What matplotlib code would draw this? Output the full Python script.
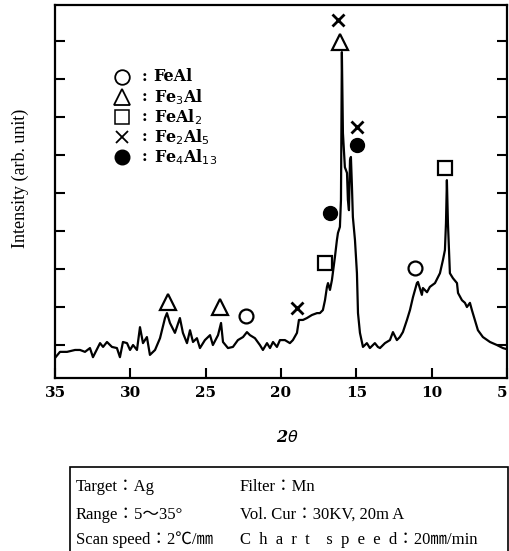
import numpy as np
import matplotlib
matplotlib.use("Agg")
import matplotlib.pyplot as plt
from matplotlib.patches import Rectangle

# XRD trace (2theta in degrees, intensity in arbitrary units)
two_theta = [35.00, 34.67, 34.20, 33.67, 33.34, 33.01, 32.68, 32.48, 32.01, 31.81,
             31.55, 31.22, 30.89, 30.69, 30.49, 30.22, 30.02, 29.82, 29.56, 29.36,
             29.16, 28.90, 28.70, 28.36, 28.03, 27.70, 27.57, 27.37, 27.04, 26.71,
             26.51, 26.24, 26.04, 25.84, 25.58, 25.38, 25.05, 24.71, 24.52, 24.18,
             23.98, 23.85, 23.52, 23.19, 22.86, 22.52, 22.26, 22.06, 21.73, 21.40,
             21.20, 20.93, 20.73, 20.53, 20.27, 20.07, 19.74, 19.41, 19.21, 18.94,
             18.81, 18.54, 18.28, 17.95, 17.61, 17.42, 17.22, 17.08, 16.95, 16.88,
             16.75, 16.62, 16.42, 16.29, 16.22, 16.09, 16.02, 15.96, 15.89, 15.76,
             15.62, 15.56, 15.49, 15.42, 15.36, 15.29, 15.23, 15.09, 14.96, 14.89,
             14.76, 14.56, 14.30, 14.10, 13.90, 13.77, 13.57, 13.43, 13.10, 12.77,
             12.57, 12.31, 12.11, 11.91, 11.64, 11.44, 11.24, 10.98, 10.91, 10.65,
             10.58, 10.31, 10.12, 9.78, 9.45, 9.25, 9.12, 9.05, 8.99, 8.92,
             8.85, 8.79, 8.59, 8.32, 8.25, 7.99, 7.79, 7.66, 7.46, 7.33,
             7.13, 6.93, 6.60, 6.13, 5.67, 5.27, 5.01]
intensity = [0.66, 0.82, 0.82, 0.87, 0.87, 0.82, 0.92, 0.68, 1.05, 0.95,
             1.08, 0.95, 0.92, 0.68, 1.08, 1.05, 0.87, 1.00, 0.87, 1.47,
             1.05, 1.21, 0.74, 0.87, 1.18, 1.71, 1.84, 1.58, 1.32, 1.71,
             1.32, 1.05, 1.39, 1.08, 1.18, 0.92, 1.13, 1.26, 1.00, 1.26,
             1.58, 1.08, 0.92, 0.95, 1.13, 1.21, 1.34, 1.26, 1.18, 1.00,
             0.87, 1.05, 0.92, 1.08, 0.95, 1.13, 1.13, 1.05, 1.13, 1.32,
             1.66, 1.66, 1.71, 1.79, 1.84, 1.84, 1.92, 2.18, 2.53, 2.63,
             2.45, 2.71, 3.32, 3.76, 3.95, 4.11, 4.82, 8.71, 6.58, 5.68,
             5.53, 4.82, 4.55, 5.87, 5.95, 5.16, 4.37, 3.76, 2.89, 1.84,
             1.32, 0.95, 1.05, 0.92, 1.00, 1.05, 0.95, 0.92, 1.05, 1.13,
             1.34, 1.13, 1.21, 1.34, 1.66, 1.92, 2.26, 2.63, 2.66, 2.32,
             2.50, 2.39, 2.53, 2.63, 2.89, 3.24, 3.50, 4.21, 5.34, 4.21,
             3.50, 2.89, 2.76, 2.63, 2.37, 2.18, 2.11, 2.00, 2.11, 1.92,
             1.66, 1.39, 1.21, 1.08, 1.00, 0.92, 0.89]

# Phase markers (2theta, intensity)
feal_x = [22.33, 11.11]
feal_y = [1.76, 3.03]
fe3al_x = [27.50, 24.05, 16.09]
fe3al_y = [2.13, 2.00, 8.97]
feal2_x = [17.08, 9.12]
feal2_y = [3.16, 5.66]
fe2al5_x = [18.94, 16.22, 14.96]
fe2al5_y = [1.97, 9.55, 6.74]
fe4al13_x = [16.75, 14.96]
fe4al13_y = [4.47, 6.26]

x_ticks = [35, 30, 25, 20, 15, 10, 5]
y_ticks = [1, 2, 3, 4, 5, 6, 7, 8, 9]

legend_labels = ["FeAl", "Fe$_3$Al", "FeAl$_2$", "Fe$_2$Al$_5$", "Fe$_4$Al$_{13}$"]

info_col1 = ["Target：Ag", "Range：5～35°", "Scan speed：2℃/㎜"]
info_col2 = ["Filter：Mn", "Vol. Cur：30KV, 20m A",
             "C  h  a  r  t    s  p  e  e  d：20㎜/min"]

fig = plt.figure(figsize=(5.10, 5.51), dpi=100)
ax = fig.add_axes([55/510, 1-378/551, 452/510, 373/551])

ax.plot(two_theta, intensity, color="black", lw=1.6, solid_joinstyle="round")

mk = dict(color="black", linestyle="none")
ax.plot(feal_x, feal_y, marker="o", ms=10, mfc="white", mew=1.6, **mk)
ax.plot(fe3al_x, fe3al_y, marker="^", ms=12, mfc="white", mew=1.6, **mk)
ax.plot(feal2_x, feal2_y, marker="s", ms=9.5, mfc="white", mew=1.6, **mk)
ax.plot(fe2al5_x, fe2al5_y, marker="x", ms=9, mew=2.0, **mk)
ax.plot(fe4al13_x, fe4al13_y, marker="o", ms=10, mfc="black", **mk)

ax.set_xlim(35, 5)
ax.set_ylim(0.132, 9.95)
ax.set_xticks(x_ticks)
ax.set_xticklabels([str(t) for t in x_ticks], fontfamily="DejaVu Serif",
                   fontweight="bold", fontsize=11)
ax.get_xticklabels()[-1].set_horizontalalignment("right")
ax.set_yticks(y_ticks)
ax.set_yticklabels([])
ax.tick_params(axis="x", direction="in", length=7, width=1.5, pad=6, top=False)
ax.tick_params(axis="y", direction="in", length=7, width=1.5, left=True, right=True)
for s in ax.spines.values():
    s.set_linewidth(1.6)

# legend drawn manually
leg_y = [0.807, 0.753, 0.700, 0.646, 0.592]
leg_styles = [dict(marker="o", ms=10.5, mfc="white", mew=1.3),
              dict(marker="^", ms=11, mfc="white", mew=1.3),
              dict(marker="s", ms=10, mfc="white", mew=1.1),
              dict(marker="x", ms=9, mew=1.3),
              dict(marker="o", ms=10.5, mfc="black")]
for yy, st, lab in zip(leg_y, leg_styles, legend_labels):
    ax.plot([0.148], [yy], transform=ax.transAxes, color="black",
            linestyle="none", clip_on=False, **st)
    ax.text(0.192, yy, ":", transform=ax.transAxes, va="center", ha="left",
            fontsize=11, fontweight="bold", fontfamily="DejaVu Serif")
    ax.text(0.218, yy, lab, transform=ax.transAxes, va="center", ha="left",
            fontsize=11.5, fontweight="bold", fontfamily="DejaVu Serif")

fig.text(20/510, 1-178/551, "Intensity (arb. unit)", rotation=90, ha="center",
         va="center", fontsize=13, fontfamily="Liberation Serif")
fig.text(287/510, 1-437/551, "2$\\theta$", ha="center", va="center",
         fontsize=11.5, fontweight="bold", fontstyle="italic", fontfamily="DejaVu Serif")

# info box
fig.patches.append(Rectangle((70/510, -0.02), 438/510, (551-467)/551 + 0.02,
                             transform=fig.transFigure, fill=False,
                             edgecolor="black", lw=1.2))
row_y = [1-487/551, 1-515/551, 1-540/551]
fam = ["Liberation Serif", "Noto Sans CJK JP"]
for yy, t1, t2 in zip(row_y, info_col1, info_col2):
    fig.text(76/510, yy, t1, ha="left", va="center", fontsize=12, family=fam)
    fig.text(240/510, yy, t2, ha="left", va="center", fontsize=12, family=fam)

fig.savefig("out.png", dpi=100)
